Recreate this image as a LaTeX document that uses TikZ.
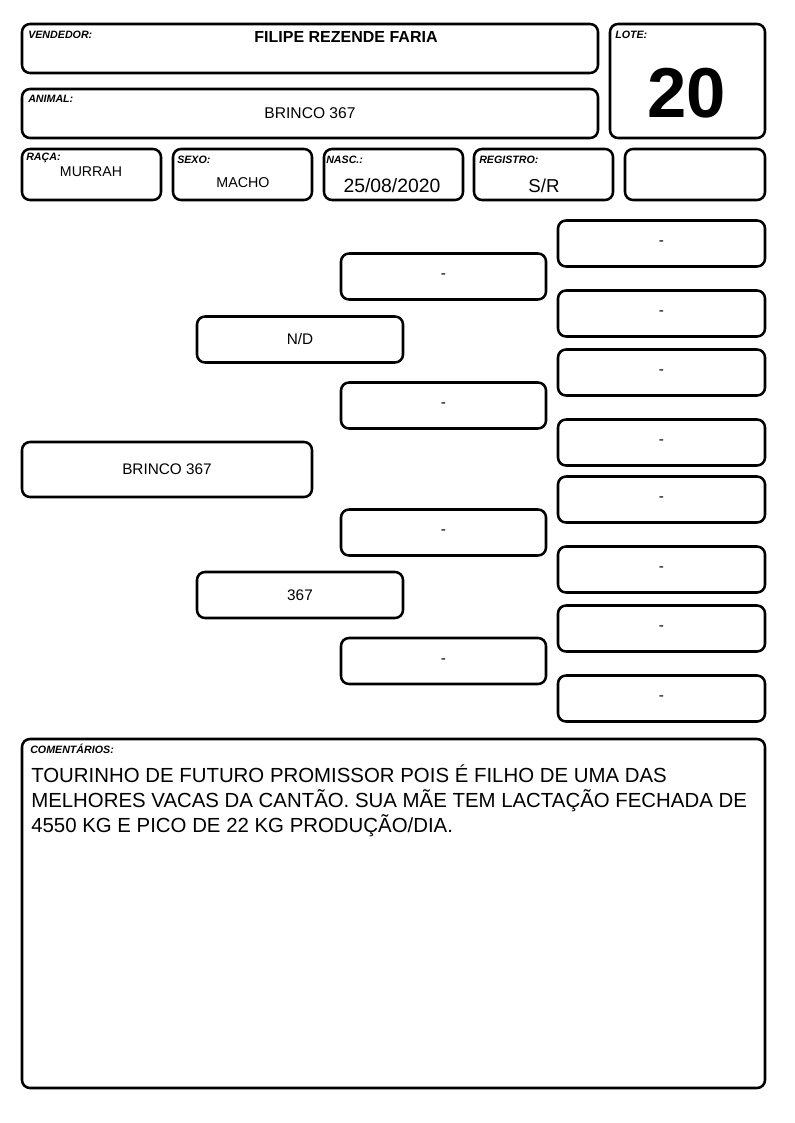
\documentclass[tikz,border=0pt]{standalone}
\usepackage{fontspec}
\setmainfont{Liberation Sans}
\usetikzlibrary{positioning}

\tikzset{
  caixa/.style={draw, line width=1.9pt, rounded corners=6pt, inner sep=0pt},
  tam/.style 2 args={minimum width=#1*0.75pt, minimum height=#2*0.75pt},
  rotulo/.style={anchor=north west, inner sep=0pt, font=\fontsize{8}{9}\selectfont\bfseries\itshape},
  valor/.style={inner sep=0pt, font=\fontsize{11}{13}\selectfont},
  pedigree/.style={caixa, tam={206}{46}, font=\fontsize{11.5}{13}\selectfont}
}

\begin{document}
\begin{tikzpicture}[x=0.75pt, y=-0.75pt]
  \useasboundingbox (0,0) rectangle (794,1123);

  % cabecalho
  \node[caixa, tam={576}{49}] (vendedor) at (310,48.5) {};
  \node[rotulo] (vendedorrot) at (28,31) {VENDEDOR:};
  \node[valor, font=\fontsize{12}{14}\selectfont\bfseries] (vendedorval) at (346,37) {FILIPE REZENDE FARIA};

  \node[caixa, tam={576}{49}] (animal) at (310,113.5) {};
  \node[rotulo] (animalrot) at (28,95) {ANIMAL:};
  \node[valor, font=\fontsize{11.7}{14}\selectfont] (animalval) at (310,113) {BRINCO 367};

  \node[caixa, tam={155}{114}] (lote) at (687.5,81) {};
  \node[rotulo] (loterot) at (615,31) {LOTE:};
  \node[valor, font=\fontsize{53}{60}\selectfont\bfseries] (loteval) at (687,93) {20};

  \node[caixa, tam={139}{51}] (raca) at (91.5,174.5) {};
  \node[rotulo] (racarot) at (26,153) {RAÇA:};
  \node[valor, font=\fontsize{10.6}{13}\selectfont] (racaval) at (91,172) {MURRAH};

  \node[caixa, tam={139}{51}] (sexo) at (242.5,174.5) {};
  \node[rotulo] (sexorot) at (177,156) {SEXO:};
  \node[valor, font=\fontsize{10.7}{13}\selectfont] (sexoval) at (243,183) {MACHO};

  \node[caixa, tam={139}{51}] (nasc) at (393.5,174.5) {};
  \node[rotulo] (nascrot) at (326,156) {NASC.:};
  \node[valor, font=\fontsize{14.5}{16}\selectfont] (nascval) at (392,186) {25/08/2020};

  \node[caixa, tam={139}{51}] (registro) at (543.5,174.5) {};
  \node[rotulo] (registrorot) at (479,156) {REGISTRO:};
  \node[valor, font=\fontsize{14}{16}\selectfont] (registroval) at (544,186) {S/R};

  \node[caixa, tam={140}{51}] (vazio) at (695,174.5) {};

  % genealogia
  \node[caixa, tam={290}{55}, font=\fontsize{11.5}{13}\selectfont] (proprio) at (167,469.5) {BRINCO 367};

  \node[pedigree] (pai) at (300,339.5) {N/D};
  \node[pedigree] (mae) at (300,595) {367};

  \node[pedigree, tam={205}{46}] (avopp) at (443.5,276.5) {-};
  \node[pedigree, tam={205}{46}] (avopm) at (443.5,405.5) {-};
  \node[pedigree, tam={205}{46}] (avomp) at (443.5,532.5) {-};
  \node[pedigree, tam={205}{46}] (avomm) at (443.5,661) {-};

  \node[pedigree, tam={207}{46}] (bis1) at (661.5,243.5) {-};
  \node[pedigree, tam={207}{46}] (bis2) at (661.5,313.5) {-};
  \node[pedigree, tam={207}{46}] (bis3) at (661.5,372.5) {-};
  \node[pedigree, tam={207}{46}] (bis4) at (661.5,442.5) {-};
  \node[pedigree, tam={207}{46}] (bis5) at (661.5,499.5) {-};
  \node[pedigree, tam={207}{46}] (bis6) at (661.5,569.5) {-};
  \node[pedigree, tam={207}{46}] (bis7) at (661.5,628.5) {-};
  \node[pedigree, tam={207}{46}] (bis8) at (661.5,698.5) {-};

  % comentarios
  \node[caixa, tam={743}{349}] (comentarios) at (393.5,913.5) {};
  \node[rotulo] (comentariosrot) at (30,744) {COMENTÁRIOS:};
  \node[anchor=north west, inner sep=0pt, align=left, font=\fontsize{15.3}{18.75}\selectfont] (comentariostxt) at (31,765)
    {TOURINHO DE FUTURO PROMISSOR POIS É FILHO DE UMA DAS\\
     MELHORES VACAS DA CANTÃO. SUA MÃE TEM LACTAÇÃO FECHADA DE\\
     4550 KG E PICO DE 22 KG PRODUÇÃO/DIA.};
\end{tikzpicture}
\end{document}
